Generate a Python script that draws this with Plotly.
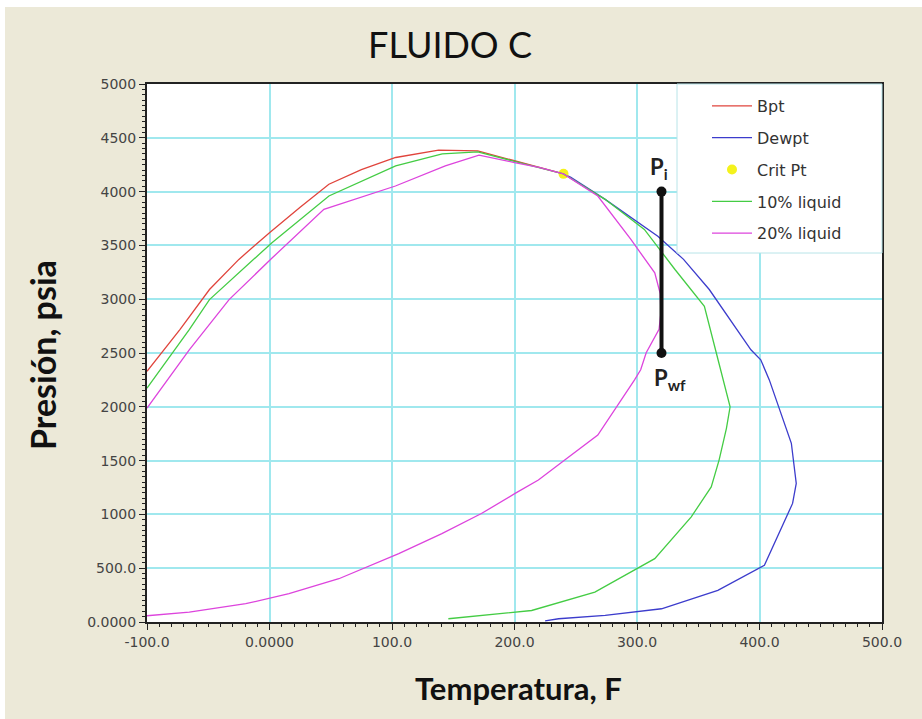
import plotly.graph_objects as go

# ---------------- data ----------------
bpt_T = [-100, -87, -73, -49, -25, 0, 25, 48.5, 75, 103, 138, 170, 200, 220, 240]
bpt_P = [2330, 2520, 2720, 3090, 3370, 3618, 3855, 4068, 4205, 4317, 4385, 4378, 4285, 4225, 4165]

dew_T = [240, 246, 274, 317, 338, 359, 393, 401, 408, 421, 426, 430, 427, 404, 366, 320, 274, 236, 225]
dew_P = [4165, 4133, 3928, 3586, 3370, 3090, 2530, 2437, 2250, 1813, 1661, 1288, 1102, 527, 294, 123, 61, 30, 10]

crit_T = [240]
crit_P = [4165]

liq10_T = [-100, -84, -65.5, -49, 2, 48.5, 103, 141, 170, 200, 240, 274, 306, 331, 355, 367, 374, 376, 373,
           367, 360.6, 344.3, 314.5, 265.6, 214, 146]
liq10_P = [2173, 2430, 2717, 2996, 3525, 3959, 4239, 4350, 4370, 4280, 4165, 3928, 3649, 3276, 2934, 2400, 2100,
           2000, 1800, 1505, 1256, 977, 589, 278, 107, 30]

liq20_T = [-100, -65.5, -33, 2.3, 44.4, 102.8, 143.5, 171, 200, 220, 240, 268, 295, 314.5, 319, 319.5, 318,
           307.5, 303, 298, 287, 268, 241, 219.5, 200.5, 173, 140.7, 105.5, 56.6, 15.9, -19.4, -65.5, -100]
liq20_P = [1987, 2530, 2996, 3385, 3835, 4052, 4239, 4338, 4270, 4226, 4165, 3959, 3555, 3245, 3050, 2870, 2720,
           2502, 2344, 2251, 2063, 1738, 1505, 1319, 1195, 1008, 822, 636, 402, 263, 170, 91, 58]

well_T = [320, 320]
well_P = [4000, 2500]

x_tickvals = [-100, 0, 100, 200, 300, 400, 500]
x_ticktext = ["-100.0", "0.0000", "100.0", "200.0", "300.0", "400.0", "500.0"]
y_tickvals = [0, 500, 1000, 1500, 2000, 2500, 3000, 3500, 4000, 4500, 5000]
y_ticktext = ["0.0000", "500.0", "1000", "1500", "2000", "2500", "3000", "3500", "4000", "4500", "5000"]

# ---------------- figure ----------------
W, H = 922, 719
ML, MR, MT, MB = 147, 40, 84, 97
PW, PH = W - ML - MR, H - MT - MB

def px(x):
    return (x - ML) / PW

def py(y):
    return (H - MB - y) / PH

BEIGE = "#ECE9D8"
GRID = "#A0E8EE"

fig = go.Figure()
fig.add_trace(go.Scatter(x=bpt_T, y=bpt_P, mode="lines", name="Bpt", legendgroup="a",
                         line=dict(color="#E0443C", width=1.3)))
fig.add_trace(go.Scatter(x=dew_T, y=dew_P, mode="lines", name="Dewpt", legendgroup="b",
                         line=dict(color="#3C3CCC", width=1.3)))
fig.add_trace(go.Scatter(x=crit_T, y=crit_P, mode="markers", name="Crit Pt", legendgroup="c",
                         marker=dict(color="#F4F21C", size=10)))
fig.add_trace(go.Scatter(x=liq10_T, y=liq10_P, mode="lines", name="10% liquid", legendgroup="d",
                         line=dict(color="#44CC44", width=1.3)))
fig.add_trace(go.Scatter(x=liq20_T, y=liq20_P, mode="lines", name="20% liquid", legendgroup="e",
                         line=dict(color="#DD44DD", width=1.3)))
fig.add_trace(go.Scatter(x=well_T, y=well_P, mode="lines+markers", showlegend=False,
                         line=dict(color="#111111", width=4), marker=dict(color="#111111", size=10)))

fig.update_layout(
    width=W, height=H,
    margin=dict(l=ML, r=MR, t=MT, b=MB),
    paper_bgcolor=BEIGE,
    plot_bgcolor="white",
    showlegend=True,
    legend=dict(x=px(707), y=py(89), xanchor="left", yanchor="top",
                bgcolor="rgba(0,0,0,0)", borderwidth=0,
                font=dict(family="DejaVu Sans", size=16, color="#333333"),
                itemwidth=40, tracegroupgap=8),
    title=dict(text="FLUIDO C", x=450 / W, xref="container", xanchor="center",
               y=1 - 45 / H, yref="container", yanchor="middle",
               font=dict(family="Lato", size=36, color="#111111")),
)

fig.update_xaxes(range=[-100, 500], tickvals=x_tickvals, ticktext=x_ticktext,
                 showgrid=True, gridcolor=GRID, gridwidth=1.5, zeroline=False,
                 showline=True, linecolor="#222222", linewidth=2, mirror=True,
                 ticks="outside", ticklen=6, tickcolor="#222222",
                 minor=dict(dtick=10, ticks="outside", ticklen=3, tickcolor="#222222", showgrid=False),
                 tickfont=dict(family="DejaVu Sans", size=14, color="#444444"))
fig.update_yaxes(range=[0, 5000], tickvals=y_tickvals, ticktext=y_ticktext,
                 showgrid=True, gridcolor=GRID, gridwidth=1.5, zeroline=False,
                 showline=True, linecolor="#222222", linewidth=2, mirror=True,
                 ticks="outside", ticklen=6, tickcolor="#222222",
                 minor=dict(dtick=50, ticks="outside", ticklen=3, tickcolor="#222222", showgrid=False),
                 tickfont=dict(family="DejaVu Sans", size=14, color="#444444"))

# legend box, white strips at image edges
fig.add_shape(type="rect", xref="paper", yref="paper", x0=px(677), x1=px(882), y0=py(253), y1=py(84),
              fillcolor="white", line=dict(color="#B8E4E8", width=1), layer="above")
fig.add_shape(type="rect", xref="paper", yref="paper", x0=px(0), x1=px(W), y0=py(7), y1=py(0),
              fillcolor="white", line=dict(width=0), layer="above")
fig.add_shape(type="rect", xref="paper", yref="paper", x0=px(0), x1=px(5), y0=py(H), y1=py(0),
              fillcolor="white", line=dict(width=0), layer="above")

# axis titles
fig.add_annotation(text="<b>Temperatura, F</b>", xref="paper", yref="paper", x=px(518), y=py(688),
                   xanchor="center", yanchor="middle",
                   showarrow=False, font=dict(family="Lato", size=31, color="#111111"))
fig.add_annotation(text="<b>Presión, psia</b>", xref="paper", yref="paper", x=px(42), y=py(355),
                   xanchor="center", yanchor="middle",
                   showarrow=False, textangle=-90, font=dict(family="Lato", size=34, color="#111111"))

# Pi / Pwf labels
fig.add_annotation(text="<b>P<sub>i</sub></b>", x=well_T[0], y=well_P[0], xref="x", yref="y",
                   showarrow=False, yshift=24, xshift=-3, font=dict(family="Lato", size=22, color="#222222"))
fig.add_annotation(text="<b>P<sub>wf</sub></b>", x=well_T[1], y=well_P[1], xref="x", yref="y",
                   showarrow=False, yshift=-26, xshift=8, font=dict(family="Lato", size=22, color="#222222"))

fig.write_html("out.html")
